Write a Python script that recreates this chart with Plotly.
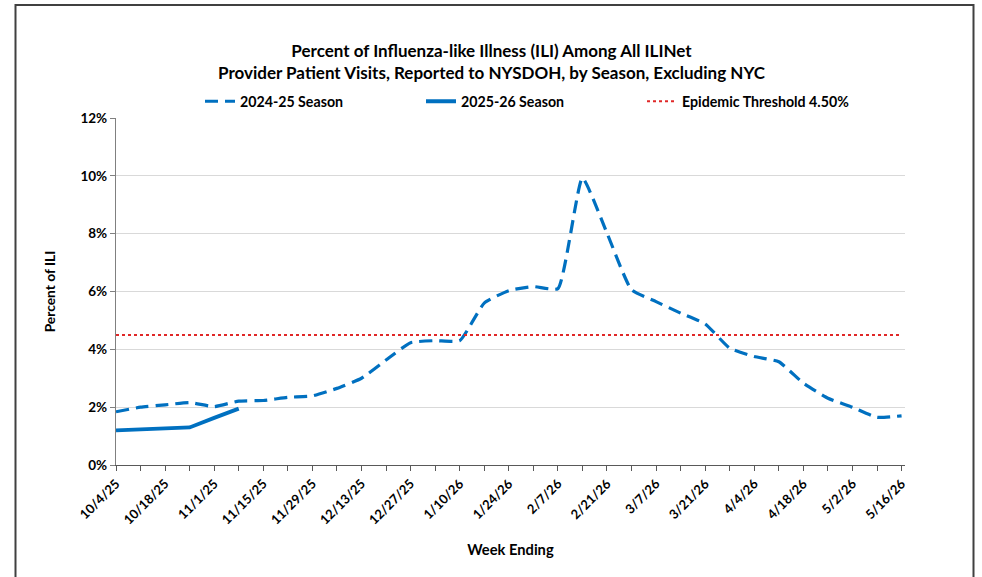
import plotly.graph_objects as go

week_ending = ["10/4/25", "10/11/25", "10/18/25", "10/25/25", "11/1/25", "11/8/25", "11/15/25",
               "11/22/25", "11/29/25", "12/6/25", "12/13/25", "12/20/25", "12/27/25", "1/3/26",
               "1/10/26", "1/17/26", "1/24/26", "1/31/26", "2/7/26", "2/14/26", "2/21/26",
               "2/28/26", "3/7/26", "3/14/26", "3/21/26", "3/28/26", "4/4/26", "4/11/26",
               "4/18/26", "4/25/26", "5/2/26", "5/9/26", "5/16/26"]

season_2024_25 = [1.84, 2.00, 2.08, 2.16, 2.02, 2.21, 2.23, 2.34, 2.39, 2.65, 3.00, 3.63,
                  4.23, 4.30, 4.30, 5.60, 6.03, 6.17, 6.10, 9.92, 8.02, 6.06, 5.65, 5.25,
                  4.88, 4.04, 3.75, 3.57, 2.83, 2.31, 2.00, 1.65, 1.70]

season_2025_26 = [1.20, 1.23, 1.26, 1.30, 1.63, 1.95]

epidemic_threshold = 4.5

y_ticks = [0, 2, 4, 6, 8, 10, 12]
y_tick_labels = ["0%", "2%", "4%", "6%", "8%", "10%", "12%"]

x_idx = list(range(len(week_ending)))
BLUE = "#0070C0"
FONT = "Lato"

fig = go.Figure()
fig.add_trace(go.Scatter(
    x=x_idx, y=season_2024_25, mode="lines", name="2024-25 Season",
    line=dict(color=BLUE, width=3.2, dash="13px,7px", shape="spline", smoothing=0.45)))
fig.add_trace(go.Scatter(
    x=x_idx[:len(season_2025_26)], y=season_2025_26, mode="lines", name="2025-26 Season",
    line=dict(color=BLUE, width=3.8)))
fig.add_trace(go.Scatter(
    x=x_idx, y=[epidemic_threshold] * len(x_idx), mode="lines",
    name="Epidemic Threshold 4.50%",
    line=dict(color="#E02828", width=2, dash="dot")))

L, R, T, B = 116, 905, 118, 465
W, H = 982, 577
pw, ph = R - L, B - T

def px(x):
    return (x - L) / pw

def py(y):
    return (B - y) / ph

fig.update_layout(
    width=W, height=H,
    margin=dict(l=L, r=W - R, t=T, b=H - B, pad=0, autoexpand=False),
    paper_bgcolor="white", plot_bgcolor="white",
    font=dict(family=FONT, size=12, color="#000000"),
    showlegend=True, hovermode=False,
    legend=dict(orientation="h", x=px(200), xanchor="left", y=py(101.5), yanchor="middle",
                entrywidth=176, entrywidthmode="pixels",
                font=dict(family=FONT, size=14.2, color="#000", weight="bold"),
                bgcolor="rgba(0,0,0,0)", tracegroupgap=0),
    xaxis=dict(range=[0, 32.14], tickmode="array", automargin=False,
               tickvals=x_idx[::2], ticktext=week_ending[::2],
               tickangle=-45, ticks="outside", ticklen=5, tickcolor="#595959",
               showline=True, linecolor="#595959", linewidth=1.2,
               showgrid=False, zeroline=False,
               tickfont=dict(family=FONT, size=13, color="#000", weight="bold"),
               minor=dict(dtick=1, tick0=0, ticks="outside", ticklen=5, tickcolor="#595959"),
               title=dict(text="Week Ending", font=dict(family=FONT, size=14.7, color="#000", weight="bold"),
                          standoff=18)),
    yaxis=dict(range=[0, 12], tickmode="array", tickvals=y_ticks, ticktext=y_tick_labels,
               automargin=False,
               ticks="outside", ticklen=5, tickcolor="#808080",
               showline=True, linecolor="#808080", linewidth=1.2,
               showgrid=True, gridcolor="#D9D9D9", gridwidth=1, zeroline=False,
               tickfont=dict(family=FONT, size=13.5, color="#000", weight="bold"),
               title=dict(text="Percent of ILI", font=dict(family=FONT, size=13.8, color="#000", weight="bold"),
                          standoff=21)),
)

fig.add_annotation(
    xref="paper", yref="paper", x=px(492), y=py(61), xanchor="center", yanchor="middle",
    showarrow=False, align="center",
    text="Percent of Influenza-like Illness (ILI) Among All ILINet<br>"
         "Provider Patient Visits, Reported to NYSDOH, by Season, Excluding NYC",
    font=dict(family=FONT, size=17, color="#000", weight="bold"))

fig.add_shape(type="rect", xref="paper", yref="paper",
              x0=px(15.5), x1=px(973.5), y0=py(590), y1=py(5),
              line=dict(color="#404040", width=2), fillcolor="rgba(0,0,0,0)", layer="above")

fig.write_html("out.html", config={"displayModeBar": False},
               post_script="document.body.style.margin='0';document.body.style.overflow='hidden';")
